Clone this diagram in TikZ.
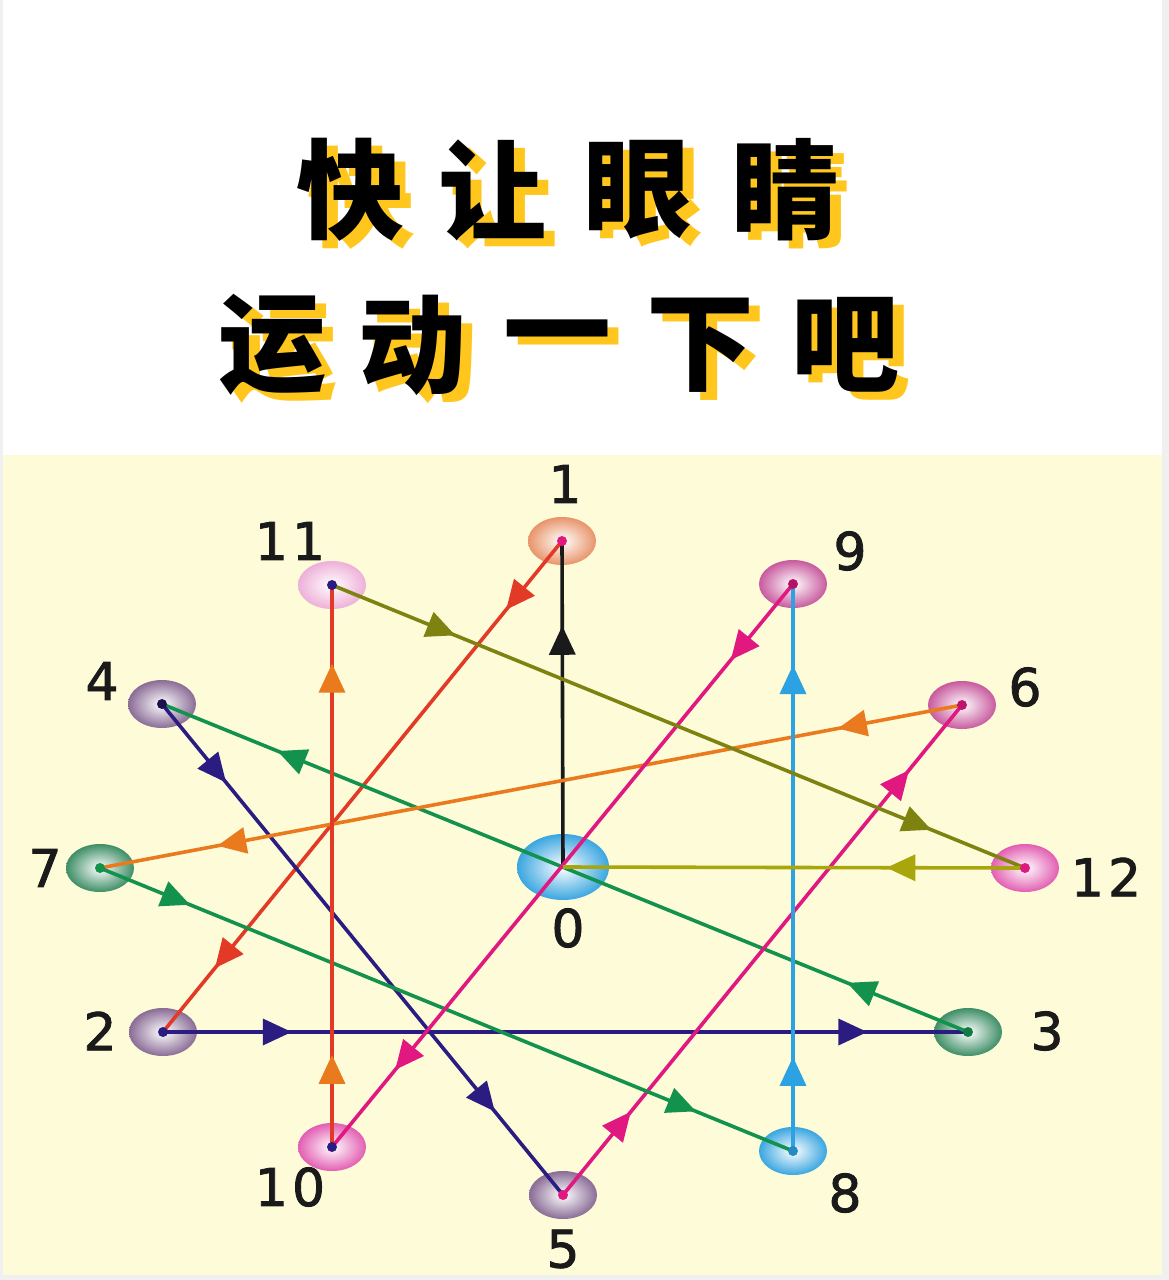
\documentclass[tikz,border=0pt]{standalone}
\usepackage{fontspec}
\newfontfamily\cjk{Noto Sans CJK SC}
\newfontfamily\lbl[LetterSpace=8,FakeBold=1.6]{DejaVu Sans}
\usetikzlibrary{arrows.meta,decorations.markings,shapes.geometric,backgrounds}
\definecolor{bgy}{HTML}{FDFBD8}
\definecolor{shy}{HTML}{FFC61E}
\definecolor{cblk}{HTML}{1A1A1A}
\definecolor{cred}{HTML}{E23A26}
\definecolor{cnavy}{HTML}{2B1C82}
\definecolor{cgrn}{HTML}{12924C}
\definecolor{cmag}{HTML}{E0187F}
\definecolor{corg}{HTML}{EA7A1E}
\definecolor{cblu}{HTML}{2CA2E2}
\definecolor{coli}{HTML}{7E8210}
\definecolor{cyol}{HTML}{A8A60A}
\definecolor{gOrg}{HTML}{E8946A}
\definecolor{gBlu}{HTML}{3AA6E0}
\definecolor{gLpk}{HTML}{EEB0D8}
\definecolor{gMag}{HTML}{C85A9E}
\definecolor{gPur}{HTML}{8A6C96}
\definecolor{gGrn}{HTML}{3E8E66}
\definecolor{gPnk}{HTML}{E25EB2}
\tikzset{
  x=1pt,y=-1pt,
  blob/.style={ellipse,minimum width=68pt,minimum height=48pt,inner sep=0pt,shading=radial,inner color=white,outer color=#1},
  bigblob/.style={ellipse,minimum width=92pt,minimum height=66pt,inner sep=0pt,shading=radial,inner color=white,outer color=#1},
  dotn/.style={circle,fill=#1,minimum size=10pt,inner sep=0pt},
  num/.style={font=\lbl\fontsize{52}{52}\selectfont,text=cblk,inner sep=0pt},
  ttl/.style={font=\cjk\bfseries\fontsize{108}{108}\selectfont,inner sep=0pt},
  conn/.style={line width=3.6pt,draw=#1},
  tip/.style={Triangle[length=29pt,width=26pt]},
  arrs/.style 2 args={postaction={decorate},decoration={markings,
     mark=at position #1 with {\arrow{Triangle[length=29pt,width=26pt]}},
     mark=at position #2 with {\arrow{Triangle[length=29pt,width=26pt]}}}},
  arrone/.style={postaction={decorate},decoration={markings,
     mark=at position #1 with {\arrow{Triangle[length=29pt,width=26pt]}}}},
}
\begin{document}
\begin{tikzpicture}
\useasboundingbox (0,0) rectangle (1169,1280);
\fill[white] (0,0) rectangle (1169,1280);
\fill[gray!12] (0,0) rectangle (3,1280);
\fill[gray!12] (1162,0) rectangle (1169,1280);
\fill[gray!12] (0,1275) rectangle (1169,1280);
\fill[bgy] (3,455) rectangle (1162,1275);

% title
\foreach \c/\x/\y/\n in {快/350/190/a,让/492/190/b,眼/637/190/c,睛/785/190/d,运/272/345/e,动/412/345/f,一/557/345/g,下/700/345/h,吧/845/345/i}{
  \node[ttl,text=shy] (s\n) at (\x+11,\y+8) {\c};
  \node[ttl,text=black] (t\n) at (\x,\y) {\c};
}

% nodes
\node[bigblob=gBlu] (n0) at (563,867) {};
\node[blob=gOrg] (n1) at (562,541) {};
\node[blob=gLpk] (n11) at (332,585) {};
\node[blob=gMag] (n9) at (793,584) {};
\node[blob=gPur] (n4) at (162,704) {};
\node[blob=gMag] (n6) at (962,705) {};
\node[blob=gGrn] (n7) at (100,868) {};
\node[blob=gPnk] (n12) at (1025,868) {};
\node[blob=gPur] (n2) at (163,1032) {};
\node[blob=gGrn] (n3) at (968,1032) {};
\node[blob=gPnk] (n10) at (332,1147) {};
\node[blob=gBlu] (n8) at (793,1151) {};
\node[blob=gPur] (n5) at (563,1195) {};

% connectors
\draw[conn=cblk,arrone=0.74] (n0.center) -- (n1.center);
\draw[conn=cred,arrs={0.14}{0.87}] (n1.center) -- (n2.center);
\draw[conn=cnavy,arrs={0.16}{0.875}] (n2.center) -- (n3.center);
\draw[conn=cgrn,arrs={0.15}{0.857}] (n3.center) -- (n4.center);
\draw[conn=cnavy,arrs={0.16}{0.83}] (n4.center) -- (n5.center);
\draw[conn=cmag,arrs={0.17}{0.867}] (n5.center) -- (n6.center);
\draw[conn=corg,arrs={0.144}{0.864}] (n6.center) -- (n7.center);
\draw[conn=cgrn,arrs={0.13}{0.86}] (n7.center) -- (n8.center);
\draw[conn=cblu,arrs={0.166}{0.857}] (n8.center) -- (n9.center);
\draw[conn=cmag,arrs={0.135}{0.863}] (n9.center) -- (n10.center);
\draw[conn=cred,postaction={decorate},decoration={markings,
   mark=at position 0.164 with {\arrow[corg]{Triangle[length=29pt,width=26pt]}},
   mark=at position 0.86 with {\arrow[corg]{Triangle[length=29pt,width=26pt]}}}] (n10.center) -- (n11.center);
\draw[conn=coli,arrs={0.178}{0.865}] (n11.center) -- (n12.center);
\draw[conn=cyol,arrone=0.30] (n12.center) -- (n0.center);

% center dots
\node[dotn=cmag] (d1) at (n1.center) {};
\node[dotn=cnavy] (d11) at (n11.center) {};
\node[dotn=cmag!80!black] (d9) at (n9.center) {};
\node[dotn=cnavy!60!black] (d4) at (n4.center) {};
\node[dotn=cmag!85!black] (d6) at (n6.center) {};
\node[dotn=cgrn] (d7) at (n7.center) {};
\node[dotn=cmag] (d12) at (n12.center) {};
\node[dotn=cnavy] (d2) at (n2.center) {};
\node[dotn=cgrn!85!black] (d3) at (n3.center) {};
\node[dotn=cnavy] (d10) at (n10.center) {};
\node[dotn=cblu!85!black] (d8) at (n8.center) {};
\node[dotn=cmag] (d5) at (n5.center) {};

% labels
\node[num] (l1) at (565,484) {1};
\node[num] (l11) at (290,541) {11};
\node[num] (l9) at (850,551) {9};
\node[num] (l4) at (102,681) {4};
\node[num] (l6) at (1025,687) {6};
\node[num] (l7) at (45,868) {7};
\node[num] (l12) at (1106,877) {12};
\node[num] (l0) at (568,928) {0};
\node[num] (l2) at (100,1031) {2};
\node[num] (l3) at (1047,1031) {3};
\node[num] (l10) at (290,1187) {10};
\node[num] (l8) at (845,1193) {8};
\node[num] (l5) at (563,1249) {5};
\end{tikzpicture}
\end{document}
